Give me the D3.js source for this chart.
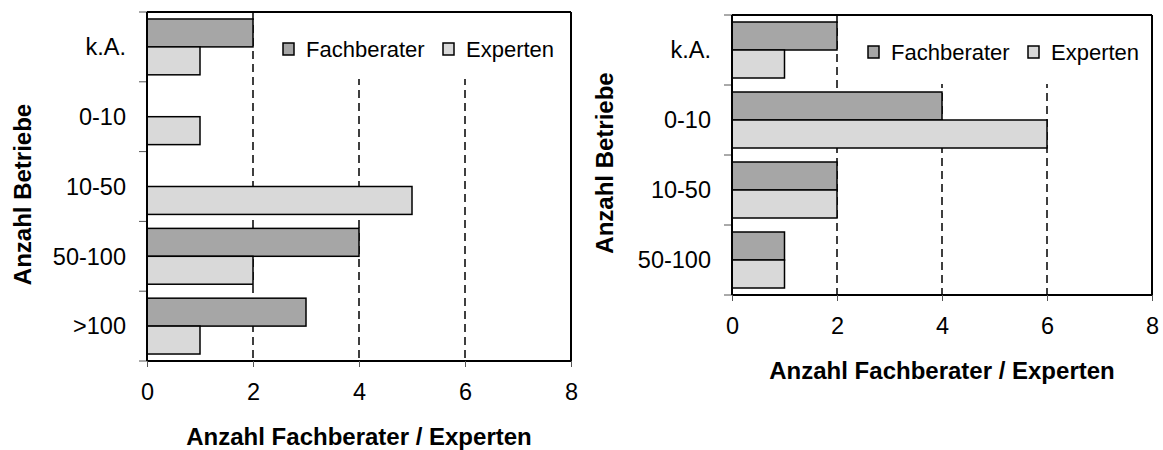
<!DOCTYPE html>
<html>
<head>
<meta charset="utf-8">
<script src="https://cdn.jsdelivr.net/npm/d3@7"></script>
<style>
  html, body { margin: 0; padding: 0; background: #fff; }
  svg { display: block; font-family: "Liberation Sans", Arial, sans-serif; }
</style>
</head>
<body>
<svg id="chart" width="1163" height="450"></svg>
<script>
// ---- Data ----
const seriesNames = ["Fachberater", "Experten"];
const seriesColors = ["#a6a6a6", "#d9d9d9"];
const xTicks = [0, 2, 4, 6, 8];
const gridValues = [2, 4, 6];

const leftCategories = ["k.A.", "0-10", "10-50", "50-100", ">100"];
const leftFachberater = [2, 0, 0, 4, 3];
const leftExperten = [1, 1, 5, 2, 1];

const rightCategories = ["k.A.", "0-10", "10-50", "50-100"];
const rightFachberater = [2, 4, 2, 1];
const rightExperten = [1, 6, 2, 1];

const xTitle = "Anzahl Fachberater / Experten";
const yTitle = "Anzahl Betriebe";

const svg = d3.select("#chart");
const FONT = "Liberation Sans, Arial, sans-serif";

function drawChart(cfg) {
  const { left, right, top, bottom, categories, values, yTitleX, legendH } = cfg;
  const g = svg.append("g");

  const x = d3.scaleLinear().domain([0, 8]).range([left, right]);
  const y = d3.scaleBand().domain(categories).range([top, bottom])
    .paddingInner(0.2).paddingOuter(0.1);
  const ySub = d3.scaleBand().domain(seriesNames).range([0, y.bandwidth()]);
  const color = d3.scaleOrdinal().domain(seriesNames).range(seriesColors);

  // dashed gridlines
  g.selectAll("line.grid").data(gridValues).join("line")
    .attr("class", "grid")
    .attr("x1", d => x(d)).attr("x2", d => x(d))
    .attr("y1", top).attr("y2", bottom)
    .attr("stroke", "#000").attr("stroke-width", 1.5)
    .attr("stroke-dasharray", "8,5");

  // legend background (white box hiding gridlines)
  g.append("rect")
    .attr("x", x(2) + 4).attr("y", top + 1)
    .attr("width", right - x(2) - 5).attr("height", legendH)
    .attr("fill", "#fff");

  // bars
  const rows = categories.map((c, i) => ({ cat: c, vals: seriesNames.map((s, j) => ({ s, v: values[j][i] })) }));
  const grp = g.selectAll("g.cat").data(rows).join("g")
    .attr("transform", d => `translate(0,${y(d.cat)})`);
  grp.selectAll("rect").data(d => d.vals.filter(v => v.v > 0)).join("rect")
    .attr("x", x(0))
    .attr("y", d => ySub(d.s))
    .attr("width", d => x(d.v) - x(0))
    .attr("height", ySub.bandwidth())
    .attr("fill", d => color(d.s))
    .attr("stroke", "#000").attr("stroke-width", 1.5);

  // frame top & right
  g.append("line").attr("x1", left).attr("x2", right).attr("y1", top).attr("y2", top)
    .attr("stroke", "#000").attr("stroke-width", 2);
  g.append("line").attr("x1", right).attr("x2", right).attr("y1", top).attr("y2", bottom)
    .attr("stroke", "#000").attr("stroke-width", 2);

  // x axis
  const xAxis = d3.axisBottom(x).tickValues(xTicks).tickSize(6).tickPadding(16);
  const xa = g.append("g").attr("transform", `translate(0,${bottom})`).call(xAxis);
  xa.select(".domain").attr("stroke-width", 2).attr("d", `M${left},0H${right}`);
  xa.selectAll(".tick line").attr("stroke", "#555").attr("stroke-width", 1);
  xa.selectAll(".tick text").attr("font-size", 23.5).attr("fill", "#000")
    .attr("font-family", FONT);

  // y axis: ticks at band boundaries
  const bounds = d3.range(categories.length + 1).map(i => top + i * y.step());
  g.selectAll("line.ytick").data(bounds).join("line")
    .attr("x1", left - 8).attr("x2", left).attr("y1", d => d).attr("y2", d => d)
    .attr("stroke", "#555").attr("stroke-width", 1);
  g.append("line").attr("x1", left).attr("x2", left).attr("y1", top).attr("y2", bottom)
    .attr("stroke", "#000").attr("stroke-width", 2);
  g.selectAll("text.ycat").data(categories).join("text")
    .attr("x", left - 21)
    .attr("y", d => y(d) + y.bandwidth() / 2)
    .attr("dy", "0.35em")
    .attr("text-anchor", "end")
    .attr("font-size", 23.5)
    .text(d => d);

  // legend
  const lg = g.append("g").attr("transform", `translate(${left + 136},${top + 31})`);
  const legOffsets = [0, 160];
  seriesNames.forEach((s, i) => {
    lg.append("rect").attr("x", legOffsets[i]).attr("y", 0).attr("width", 11).attr("height", 12)
      .attr("fill", seriesColors[i]).attr("stroke", "#000").attr("stroke-width", 1.5);
    lg.append("text").attr("x", legOffsets[i] + 23).attr("y", 6).attr("dy", "0.35em")
      .attr("font-size", 22).text(s);
  });

  // axis titles
  g.append("text").attr("x", (left + right) / 2).attr("y", bottom + 76).attr("dy", "0.35em")
    .attr("text-anchor", "middle").attr("font-weight", "bold").attr("font-size", 24)
    .text(xTitle);
  g.append("text").attr("transform", `translate(${yTitleX},${(top + bottom) / 2 + 8}) rotate(-90)`)
    .attr("text-anchor", "middle").attr("dy", "0.35em")
    .attr("font-weight", "bold").attr("font-size", 24)
    .text(yTitle);
}

drawChart({ left: 147, right: 571, top: 12, bottom: 361,
  categories: leftCategories, values: [leftFachberater, leftExperten], yTitleX: 23, legendH: 66 });
drawChart({ left: 732, right: 1152, top: 15, bottom: 295,
  categories: rightCategories, values: [rightFachberater, rightExperten], yTitleX: 605, legendH: 68 });
</script>
</body>
</html>
